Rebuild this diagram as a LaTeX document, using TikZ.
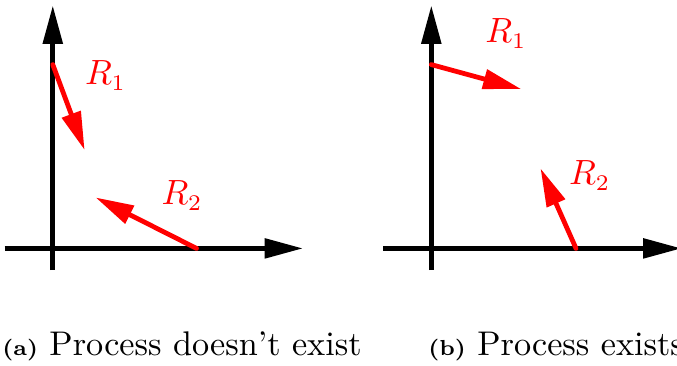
\documentclass[tikz,border=0pt]{standalone}
\usepackage{amsmath}
\usetikzlibrary{positioning,arrows.meta}
\begin{document}
\begin{tikzpicture}[
  every node/.style={font=\fontsize{10.7}{13}\selectfont},
  axis/.style={line width=1.5pt, -{Triangle[length=12pt,width=6pt]}},
  rate/.style={axis, red, line cap=round},
  ratelabel/.style={red, inner sep=0pt}]
  \useasboundingbox (-0.58,-1.29) rectangle (6.86,2.73);
  % (a) process doesn't exist
  \coordinate (xa0) at (-0.53,0);
  \coordinate (xa1) at (2.75,0);
  \coordinate (ya0) at (0,-0.24);
  \coordinate (ya1) at (0,2.67);
  \draw[axis] (xa0) -- (xa1);
  \draw[axis] (ya0) -- (ya1);
  \coordinate (ra1) at (0,2.02);
  \coordinate (ra1e) at (0.35,1.08);
  \coordinate (ra2) at (1.58,0);
  \coordinate (ra2e) at (0.47,0.56);
  \draw[rate] (ra1) -- (ra1e);
  \draw[rate] (ra2) -- (ra2e);
  \node[ratelabel] (la1) at (0.58,1.90) {$R_1$};
  \node[ratelabel] (la2) at (1.42,0.58) {$R_2$};
  \node[anchor=base west, inner sep=0pt] (capa) at (-0.56,-1.18)
    {{\fontsize{6.8}{8}\selectfont\bfseries (a)} Process doesn't exist};
  % (b) process exists
  \begin{scope}[xshift=4.16cm]
    \coordinate (xb0) at (-0.53,0);
    \coordinate (xb1) at (2.75,0);
    \coordinate (yb0) at (0,-0.24);
    \coordinate (yb1) at (0,2.67);
    \draw[axis] (xb0) -- (xb1);
    \draw[axis] (yb0) -- (yb1);
    \coordinate (rb1) at (0,2.02);
    \coordinate (rb1e) at (0.99,1.75);
    \coordinate (rb2) at (1.59,0);
    \coordinate (rb2e) at (1.20,0.88);
    \draw[rate] (rb1) -- (rb1e);
    \draw[rate] (rb2) -- (rb2e);
    \node[ratelabel] (lb1) at (0.82,2.36) {$R_1$};
    \node[ratelabel] (lb2) at (1.74,0.80) {$R_2$};
    \node[anchor=base west, inner sep=0pt] (capb) at (-0.04,-1.18)
      {{\fontsize{6.8}{8}\selectfont\bfseries (b)} Process exists};
  \end{scope}
\end{tikzpicture}
\end{document}
